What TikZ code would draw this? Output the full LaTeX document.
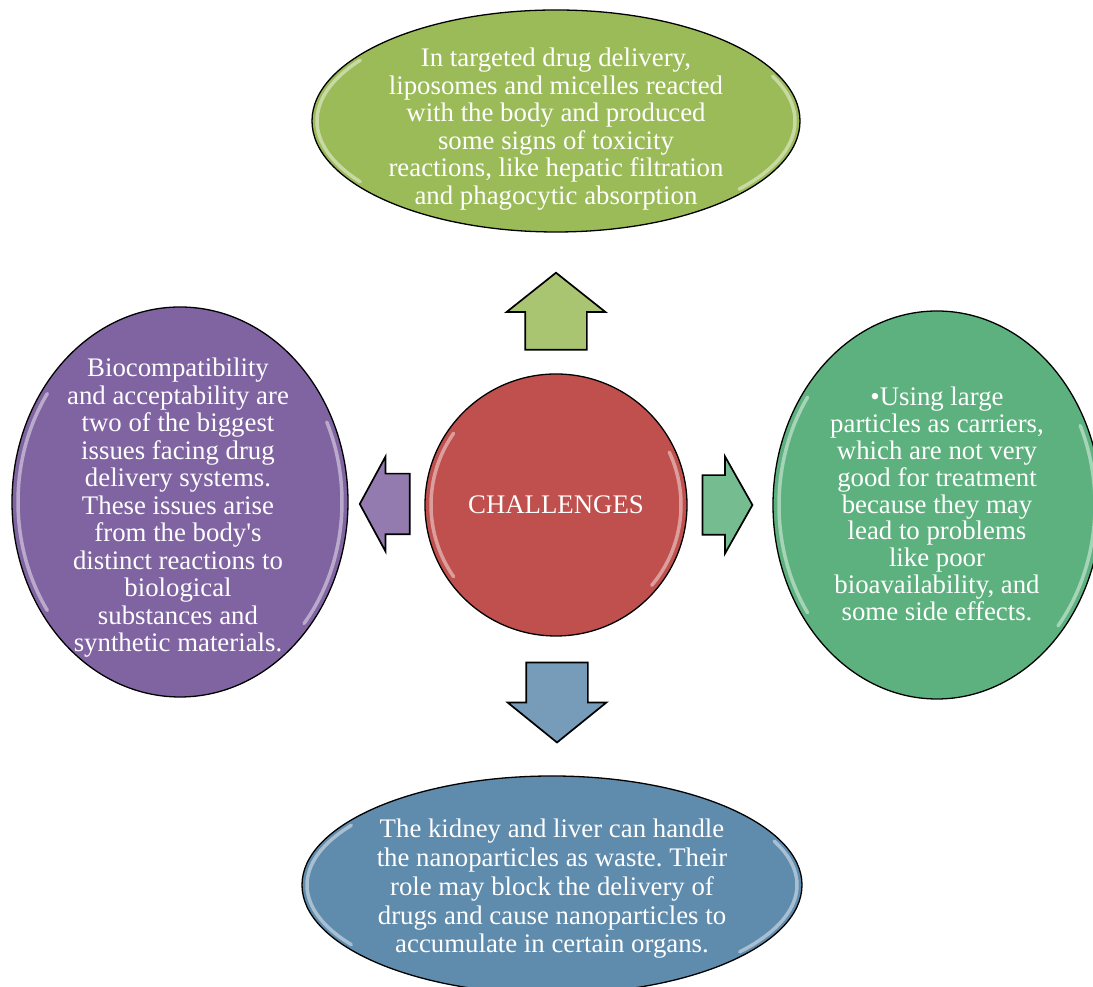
\documentclass[tikz,border=0pt]{standalone}
\usepackage{fontspec}
\setmainfont{Liberation Serif}
\frenchspacing
\usetikzlibrary{shapes.geometric, shapes.arrows, calc}
\definecolor{toxgreen}{HTML}{9BBB59}
\definecolor{hubred}{HTML}{C0504D}
\definecolor{biopurple}{HTML}{8064A2}
\definecolor{carrgreen}{HTML}{5DB17E}
\definecolor{wasteblue}{HTML}{5F8BAD}
\tikzstyle{bubble} = [ellipse, draw=black, line width=1.3pt, inner sep=0pt]
\tikzstyle{hub} = [circle, draw=black, line width=1.3pt, fill=hubred, minimum size=262pt, inner sep=0pt, text=white, font=\fontsize{26.8}{27.5}\selectfont]
\tikzstyle{bodytext} = [text=white, align=center, inner sep=0pt, font=\fontsize{26.8}{27.5}\selectfont]
\tikzstyle{blockarrow} = [single arrow, draw=black, line width=1.7pt, inner xsep=0pt, inner ysep=30pt, single arrow head extend=18.5pt]
\tikzstyle{gloss} = [white, opacity=0.45, line width=3.5pt, line cap=round]
% shiny rim on both ends of a shape
\newcommand{\glossrim}[3]{%
  \draw[gloss] ($(#1.center)+(145:#2 and #3)$) arc[start angle=145, end angle=215, x radius=#2, y radius=#3];
  \draw[gloss] ($(#1.center)+(-40:#2 and #3)$) arc[start angle=-40, end angle=25, x radius=#2, y radius=#3];
}

\begin{document}
\begin{tikzpicture}[x=1pt, y=1pt]
    \useasboundingbox (0,0) rectangle (1093,987);

    \node (hub) [hub] at (556,482) {CHALLENGES};
    \node (tox) [bubble, fill=toxgreen, minimum width=488pt, minimum height=222pt] at (556,866) {};
    \node (bio) [bubble, fill=biopurple, minimum width=336pt, minimum height=390pt] at (180,485) {};
    \node (carr) [bubble, fill=carrgreen, minimum width=328pt, minimum height=388pt] at (937,482) {};
    \node (waste) [bubble, fill=wasteblue, minimum width=500pt, minimum height=218pt] at (552,102) {};

    \glossrim{hub}{125}{125}
    \glossrim{tox}{239}{106}
    \glossrim{bio}{162}{189}
    \glossrim{carr}{158}{188}
    \glossrim{waste}{245}{104}

    \node (toxtext) [bodytext] at (556,858) {In targeted drug delivery,\\ liposomes and micelles reacted\\ with the body and produced\\ some signs of toxicity\\ reactions, like hepatic filtration\\ and phagocytic absorption};
    \node (biotext) [bodytext] at (178,479) {Biocompatibility\\ and acceptability are\\ two of the biggest\\ issues facing drug\\ delivery systems.\\ These issues arise\\ from the body\textquotesingle s\\ distinct reactions to\\ biological\\ substances and\\ synthetic materials.};
    \node (carrtext) [bodytext, font=\fontsize{26.8}{26.9}\selectfont] at (937,483) {•Using large\\ particles as carriers,\\ which are not very\\ good for treatment\\ because they may\\ lead to problems\\ like poor\\ bioavailability, and\\ some side effects.};
    \node (wastetext) [bodytext, font=\fontsize{26.8}{28.7}\selectfont] at (552,98) {The kidney and liver can handle\\ the nanoparticles as waste. Their\\ role may block the delivery of\\ drugs and cause nanoparticles to\\ accumulate in certain organs.};

    \node (toup) [blockarrow, fill=toxgreen!85!white, minimum height=77pt, single arrow tip angle=103, rotate=90] at (556,663.5) {};
    \node (todown) [blockarrow, fill=wasteblue!85!white, minimum height=80pt, single arrow tip angle=102, rotate=-90] at (557,297) {};
    \node (toleft) [blockarrow, fill=biopurple!85!white, minimum height=50pt, inner ysep=29.5pt, single arrow head extend=17pt, single arrow tip angle=123, rotate=180] at (393,483) {};
    \node (toright) [blockarrow, fill=carrgreen!85!white, minimum height=50pt, inner ysep=29pt, single arrow tip angle=121] at (719,482) {};
\end{tikzpicture}
\end{document}
